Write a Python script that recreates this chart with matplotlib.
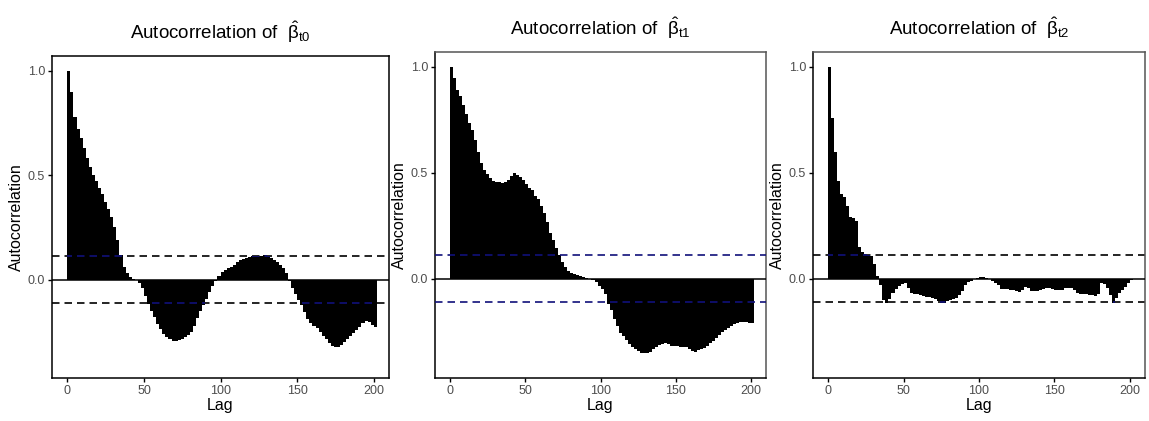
import matplotlib
matplotlib.use("Agg")
import matplotlib.pyplot as plt
import numpy as np
from matplotlib.path import Path

plt.rcParams["font.family"] = ["Liberation Sans", "DejaVu Sans"]
plt.rcParams["mathtext.fontset"] = "custom"
plt.rcParams["mathtext.rm"] = "Liberation Sans"
plt.rcParams["mathtext.it"] = "Liberation Sans"
plt.rcParams["mathtext.bf"] = "Liberation Sans:bold"

# lags read every 2 steps
lags = np.arange(0, 201, 2)

acf_t0 = [1.00, 0.90, 0.78, 0.72, 0.68, 0.63, 0.58, 0.54, 0.50, 0.47,
          0.44, 0.41, 0.37, 0.34, 0.30, 0.25, 0.19, 0.12, 0.06, 0.03,
          0.015, 0.005, -0.002, -0.015, -0.04, -0.08, -0.115, -0.15, -0.18, -0.21,
          -0.235, -0.26, -0.275, -0.285, -0.293, -0.295, -0.29, -0.285, -0.275, -0.265,
          -0.25, -0.22, -0.185, -0.15, -0.12, -0.09, -0.06, -0.03, -0.005, 0.02,
          0.035, 0.045, 0.055, 0.062, 0.072, 0.085, 0.093, 0.10, 0.106, 0.11,
          0.113, 0.114, 0.114, 0.114, 0.117, 0.113, 0.103, 0.095, 0.085, 0.072,
          0.058, 0.03, -0.005, -0.04, -0.07, -0.095, -0.12, -0.155, -0.187, -0.205,
          -0.22, -0.233, -0.25, -0.27, -0.285, -0.303, -0.318, -0.323, -0.32, -0.312,
          -0.30, -0.285, -0.27, -0.255, -0.24, -0.225, -0.205, -0.197, -0.203, -0.215,
          -0.225]

acf_t1 = [1.00, 0.945, 0.89, 0.86, 0.82, 0.775, 0.735, 0.70, 0.655, 0.60,
          0.545, 0.515, 0.495, 0.475, 0.463, 0.458, 0.455, 0.452, 0.455, 0.465,
          0.485, 0.497, 0.49, 0.478, 0.465, 0.445, 0.43, 0.418, 0.39, 0.375,
          0.345, 0.31, 0.265, 0.215, 0.18, 0.145, 0.11, 0.08, 0.055, 0.035,
          0.025, 0.02, 0.015, 0.013, 0.008, 0.003, -0.003, -0.008, -0.018, -0.035,
          -0.05, -0.075, -0.12, -0.15, -0.19, -0.225, -0.255, -0.27, -0.29, -0.31,
          -0.325, -0.335, -0.343, -0.35, -0.35, -0.35, -0.345, -0.335, -0.325, -0.315,
          -0.307, -0.303, -0.307, -0.318, -0.318, -0.32, -0.323, -0.322, -0.325, -0.335,
          -0.343, -0.346, -0.338, -0.333, -0.327, -0.318, -0.305, -0.295, -0.28, -0.265,
          -0.252, -0.245, -0.235, -0.222, -0.215, -0.21, -0.207, -0.204, -0.205, -0.208,
          -0.21]

acf_t2 = [1.00, 0.76, 0.60, 0.46, 0.40, 0.385, 0.345, 0.29, 0.285, 0.27,
          0.15, 0.125, 0.118, 0.113, 0.105, 0.07, 0.01, -0.03, -0.10, -0.117,
          -0.095, -0.07, -0.05, -0.035, -0.025, -0.02, -0.045, -0.068, -0.072, -0.075,
          -0.078, -0.082, -0.085, -0.088, -0.09, -0.097, -0.106, -0.115, -0.117, -0.108,
          -0.10, -0.095, -0.09, -0.08, -0.06, -0.03, -0.018, -0.01, -0.004, 0.002,
          0.007, 0.006, 0.002, -0.003, -0.012, -0.02, -0.03, -0.048, -0.05, -0.05,
          -0.052, -0.055, -0.06, -0.066, -0.055, -0.04, -0.045, -0.058, -0.058, -0.057,
          -0.055, -0.05, -0.043, -0.045, -0.05, -0.055, -0.055, -0.052, -0.045, -0.043,
          -0.045, -0.055, -0.07, -0.074, -0.075, -0.075, -0.078, -0.08, -0.082, -0.075,
          -0.02, -0.025, -0.045, -0.08, -0.117, -0.09, -0.07, -0.055, -0.04, -0.02,
          -0.005]

conf = 0.113
subs = ["t0", "t1", "t2"]
series = [acf_t0, acf_t1, acf_t2]

# axes boxes in figure fractions
boxes = [[0.0453, 0.1021, 0.2933, 0.7648],
         [0.3786, 0.1021, 0.2881, 0.7743],
         [0.7076, 0.1021, 0.2889, 0.7743]]
navy = "#10107a"
dash = (0, (4.5, 3))

fig = plt.figure(figsize=(11.49, 4.21), dpi=100)

for i in range(3):
    ax = fig.add_axes(boxes[i])
    bars = ax.bar(lags, series[i], width=2, align="edge", color="black",
                  linewidth=0, zorder=2)
    ax.axhline(0, color="black", lw=1.1, zorder=3)

    if i == 1:
        ax.axhline(conf, color=navy, lw=1.2, ls=dash, zorder=4)
        ax.axhline(-conf, color=navy, lw=1.2, ls=dash, zorder=4)
    else:
        # black dashes on white, blue dashes where they cross the bars
        clip = Path.make_compound_path(
            *[b.get_path().transformed(b.get_patch_transform()) for b in bars])
        for c in [conf, -conf]:
            ax.axhline(c, color="black", lw=1.2, ls=dash, zorder=1)
            ln = ax.axhline(c, color=navy, lw=1.2, ls=dash, zorder=4)
            ln.set_clip_path(clip, ax.transData)

    ax.set_xlim(-10, 210)
    ax.set_ylim(-0.47, 1.07)
    ax.set_xticks([0, 50, 100, 150, 200])
    ax.set_yticks([0.0, 0.5, 1.0])
    ax.set_yticklabels(["0.0", "0.5", "1.0"])
    ax.tick_params(length=3, width=1, color="black", labelsize=9,
                   labelcolor="#4d4d4d", pad=2)
    ax.set_xlabel("Lag", fontsize=11.5, labelpad=1)
    ax.set_ylabel("Autocorrelation", fontsize=11.5, labelpad=3)
    ax.set_title(r"Autocorrelation of  $\hat{\beta}_{\mathrm{%s}}$" % subs[i],
                 fontsize=13.5, pad=12)

    for side in ["left", "bottom", "top", "right"]:
        ax.spines[side].set_linewidth(1.1)
        ax.spines[side].set_color("black")
    if i > 0:
        ax.spines["top"].set_color("#555555")
        ax.spines["right"].set_color("#555555")

fig.savefig("out.png", dpi=100)
